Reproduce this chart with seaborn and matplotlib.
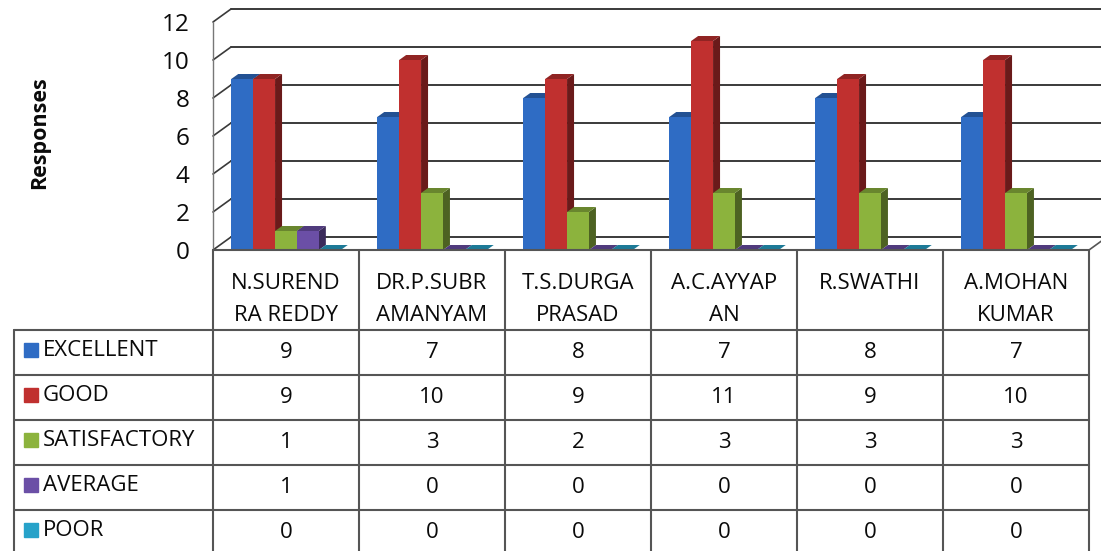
import pandas as pd
import seaborn as sns
import numpy as np
import matplotlib.pyplot as plt
from matplotlib.patches import Polygon
from matplotlib.colors import to_rgb

faculty = ["N.SUREND\nRA REDDY", "DR.P.SUBR\nAMANYAM", "T.S.DURGA\nPRASAD",
           "A.C.AYYAP\nAN", "R.SWATHI", "A.MOHAN\nKUMAR"]
ratings = ["EXCELLENT", "GOOD", "SATISFACTORY", "AVERAGE", "POOR"]
excellent = [9, 7, 8, 7, 8, 7]
good = [9, 10, 9, 11, 9, 10]
satisfactory = [1, 3, 2, 3, 3, 3]
average = [1, 0, 0, 0, 0, 0]
poor = [0, 0, 0, 0, 0, 0]
series = [excellent, good, satisfactory, average, poor]
colors = ["#2f6cc4", "#c0302f", "#8cb33d", "#6b4fa6", "#27a2c9"]
yticks = [0, 2, 4, 6, 8, 10, 12]

rows = []
for r, vals in zip(ratings, series):
    for f, v in zip(faculty, vals):
        rows.append({"Faculty": f, "Rating": r, "Responses": v})
df = pd.DataFrame(rows)

sns.set_style("white")
plt.rcParams['font.family'] = ['Open Sans', 'DejaVu Sans']
txt = "#0a0a0a"
line_c = "#555555"

W, H = 1101, 551
fig = plt.figure(figsize=(W / 100, H / 100), dpi=100)


def box(l, t, r, b):
    return [l / W, 1 - b / H, (r - l) / W, (b - t) / H]


ax = fig.add_axes(box(213, 22, 1089, 250))
ax.set_facecolor("none")
sns.barplot(data=df, x="Faculty", y="Responses", hue="Rating", hue_order=ratings,
            palette=colors, width=0.75, gap=0, saturation=1, legend=False,
            errorbar=None, ax=ax, zorder=3, edgecolor="none")
ax.set_xlim(-0.5, 5.5)
ax.set_ylim(0, 12)
ax.set_yticks(yticks)
ax.set_xticks([])
ax.set_xlabel("")
ax.set_ylabel("")
for s in ax.spines.values():
    s.set_visible(False)
ax.tick_params(axis="y", length=0, pad=17, labelsize=17.5, labelcolor=txt)

# pixel -> data scales
col_px = (1089 - 213) / 6
unit_px = (250 - 22) / 12
bdx, bdy = 18 / col_px, 13 / unit_px     # back wall offset
ddx, ddy = 7 / col_px, 5 / unit_px       # bar depth

# back wall gridlines and left wall
for v in yticks:
    ax.plot([-0.5 + bdx, 5.5 + bdx + 0.2], [v + bdy, v + bdy], color="#3a3a3a",
            lw=1.4, clip_on=False, zorder=1)
    ax.plot([-0.5, -0.5 + bdx], [v, v + bdy], color="#3a3a3a", lw=1.2,
            clip_on=False, zorder=1)
ax.plot([-0.5, -0.5], [0, 12], color="#777777", lw=1.0, clip_on=False, zorder=1)
ax.plot([5.5, 5.5 + bdx], [0, bdy], color=line_c, lw=1.2, clip_on=False, zorder=1)

# 3D faces for bars
for p in ax.patches:
    x, w, h = p.get_x(), p.get_width(), p.get_height()
    c = np.array(to_rgb(p.get_facecolor()))
    side = Polygon([(x + w, 0), (x + w + ddx, ddy), (x + w + ddx, h + ddy), (x + w, h)],
                   closed=True, facecolor=c * 0.55, edgecolor="none", zorder=2.5)
    top = Polygon([(x, h), (x + w, h), (x + w + ddx, h + ddy), (x + ddx, h + ddy)],
                  closed=True, facecolor=c * 0.75, edgecolor="none", zorder=2.6)
    ax.add_patch(side)
    ax.add_patch(top)

fig.text(40 / W, 1 - 133 / H, "Responses", rotation=90, ha="center", va="center",
         fontsize=15.5, fontweight="bold", color=txt)

# data table
tax = fig.add_axes(box(14, 250, 1089, 551))
tax.axis("off")
leg_left = -0.5 - (213 - 14) / col_px
row_px = 45
hdr = 80 / row_px
tax.set_xlim(leg_left, 5.5)
tax.set_ylim(301 / row_px, 0)
bottom = hdr + len(ratings)

tax.plot([-0.5, 5.5], [0, 0], color=line_c, lw=1.5, clip_on=False)
for i in range(len(ratings) + 1):
    tax.plot([leg_left, 5.5], [hdr + i, hdr + i], color=line_c, lw=1.5, clip_on=False)
for k in range(7):
    tax.plot([-0.5 + k, -0.5 + k], [0, bottom], color=line_c, lw=1.5, clip_on=False)
tax.plot([leg_left, leg_left], [hdr, bottom], color=line_c, lw=1.5, clip_on=False)

for j, name in enumerate(faculty):
    for li, part in enumerate(name.split("\n")):
        tax.text(j, 0.74 + li * 0.71, part, ha="center", va="center",
                 fontsize=16, color=txt)

for i, (r, vals, c) in enumerate(zip(ratings, series, colors)):
    yc = hdr + i + 0.5
    tax.plot([leg_left + 17 / col_px], [yc - 0.05], marker="s", ms=9.5, color=c,
             linestyle="none")
    tax.text(leg_left + 29 / col_px, yc - 0.05, r, ha="left", va="center",
             fontsize=16, color=txt)
    for j, v in enumerate(vals):
        tax.text(j, yc, str(v), ha="center", va="center", fontsize=16, color=txt)

fig.savefig("out.png", dpi=100)
